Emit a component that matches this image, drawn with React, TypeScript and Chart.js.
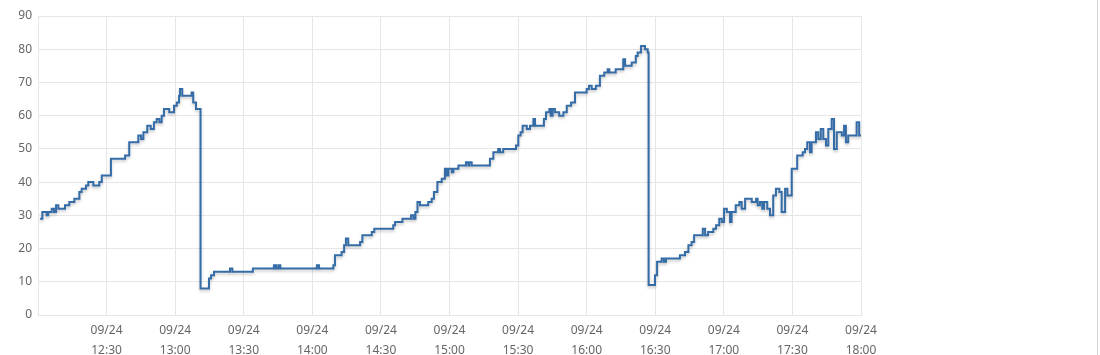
import React, { useEffect, useRef } from 'react';
import { Chart, registerables } from 'chart.js';

Chart.register(...registerables);

// Minutes after 12:00 at which the value changes (step-before)
const minutes = [
  0.9, 1.9, 3.8, 4.5, 6.0, 7.0, 7.9, 8.9, 11.8, 13.7,
  15.9, 18.1, 19.1, 21.0, 22.0, 24.2, 26.8, 27.9, 31.9, 38.1,
  39.9, 43.9, 45.1, 46.1, 47.8, 49.3, 50.7, 51.9, 53.1, 54.1,
  55.1, 57.4, 59.5, 60.7, 61.7, 62.1, 63.1, 67.2, 67.9, 69.1,
  71.1, 74.8, 75.7, 77.0, 84.0, 85.0, 94.0, 103.2, 104.1, 105.1,
  106.0, 122.0, 122.9, 129.2, 129.9, 132.8, 133.9, 134.7, 135.7, 140.9,
  141.9, 146.0, 147.1, 155.4, 156.2, 159.4, 163.2, 164.2, 165.1, 166.0,
  167.1, 170.7, 172.2, 173.2, 174.7, 176.6, 178.0, 178.8, 179.5, 181.0,
  181.7, 183.9, 187.2, 188.2, 188.7, 189.7, 197.7, 199.2, 201.3, 202.1,
  203.5, 209.1, 210.1, 211.1, 212.0, 213.8, 215.2, 216.7, 217.4, 221.3,
  222.2, 223.7, 224.3, 225.1, 226.1, 228.0, 229.8, 231.3, 233.2, 234.9,
  240.0, 241.0, 242.2, 244.0, 245.8, 247.7, 249.2, 249.9, 252.7, 256.0,
  256.8, 259.7, 261.5, 262.3, 263.8, 265.5, 266.7, 267.1, 269.9, 270.8,
  272.8, 273.8, 274.7, 280.8, 283.0, 284.5, 285.9, 287.0, 290.8, 291.8,
  293.1, 295.4, 296.6, 298.0, 299.1, 300.1, 301.3, 302.7, 303.4, 305.2,
  306.8, 307.8, 309.3, 312.2, 314.1, 314.8, 315.8, 316.8, 317.6, 319.0,
  320.2, 321.6, 322.8, 324.3, 325.3, 326.8, 327.8, 329.7, 332.1, 334.5,
  335.5, 336.5, 337.7, 338.4, 340.3, 341.3, 342.4, 343.5, 344.7, 345.7,
  347.2, 348.2, 349.4, 351.6, 352.6, 353.4, 354.4, 358.1, 359.2, 360.0,
];

const values = [
  29, 31, 30, 31, 32, 31, 33, 32, 33, 34,
  35, 37, 38, 39, 40, 39, 40, 42, 47, 48,
  52, 54, 53, 55, 57, 56, 58, 59, 58, 60,
  62, 61, 63, 64, 66, 68, 66, 67, 64, 62,
  8, 11, 12, 13, 14, 13, 14, 15, 14, 15,
  14, 15, 14, 15, 18, 19, 21, 23, 21, 22,
  24, 25, 26, 27, 28, 29, 30, 29, 31, 34,
  33, 34, 35, 37, 40, 41, 44, 42, 44, 43,
  44, 45, 46, 45, 46, 45, 47, 49, 50, 49,
  50, 51, 54, 55, 57, 56, 57, 59, 57, 59,
  61, 62, 60, 62, 61, 60, 61, 63, 64, 67,
  68, 69, 68, 69, 72, 73, 74, 73, 74, 77,
  75, 76, 78, 79, 81, 80, 79, 9, 12, 16,
  17, 16, 17, 18, 19, 21, 22, 24, 26, 24,
  25, 26, 27, 29, 28, 32, 31, 28, 31, 33,
  34, 32, 35, 34, 35, 33, 34, 32, 34, 32,
  30, 36, 38, 37, 31, 38, 36, 44, 48, 49,
  50, 52, 49, 52, 55, 53, 56, 53, 51, 56,
  59, 50, 55, 54, 57, 52, 54, 58, 54, 54,
];

const dateLabel = '09/24';
const timeLabels = [
  '12:00', '12:30', '13:00', '13:30', '14:00', '14:30', '15:00',
  '15:30', '16:00', '16:30', '17:00', '17:30', '18:00',
];

const LINE_COLOR = 'rgb(52,108,168)';
const GRID_COLOR = '#e6e6e6';
const TEXT_COLOR = '#666666';

export default function App() {
  const ref = useRef<HTMLCanvasElement>(null);

  useEffect(() => {
    if (!ref.current) return;
    const shadowPlugin = {
      id: 'lineShadow',
      beforeDatasetDraw(chart: any) {
        const c = chart.ctx;
        c.save();
        c.shadowColor = 'rgba(0,0,0,0.22)';
        c.shadowBlur = 3;
        c.shadowOffsetY = 2;
      },
      afterDatasetDraw(chart: any) {
        chart.ctx.restore();
      },
    };
    const font = { family: 'Noto Sans', size: 12, lineHeight: 1.67 };
    const chart = new Chart(ref.current, {
      type: 'line',
      data: {
        datasets: [
          {
            data: minutes.map((m, i) => ({ x: m, y: values[i] })),
            stepped: 'before',
            borderColor: LINE_COLOR,
            borderWidth: 2,
            pointRadius: 0,
            fill: false,
          },
        ],
      },
      options: {
        responsive: false,
        animation: false,
        layout: { padding: { left: 18, right: 239, top: 11, bottom: 0 } },
        plugins: { legend: { display: false }, tooltip: { enabled: false } },
        scales: {
          x: {
            type: 'linear',
            min: 0,
            max: 360,
            grid: { color: GRID_COLOR, drawTicks: false },
            border: { color: GRID_COLOR },
            ticks: {
              stepSize: 30,
              autoSkip: false,
              maxRotation: 0,
              padding: 6,
              color: TEXT_COLOR,
              font,
              callback: (v: any) => {
                const idx = Math.round(Number(v) / 30);
                if (idx === 0) return '';
                return [dateLabel, timeLabels[idx]];
              },
            },
            afterFit: (s: any) => {
              s.height = 40;
            },
          },
          y: {
            min: 0,
            max: 90,
            grid: { color: GRID_COLOR, drawTicks: false },
            border: { color: GRID_COLOR },
            ticks: { stepSize: 10, padding: 6, color: TEXT_COLOR, font },
            afterFit: (s: any) => {
              s.width = 20;
            },
          },
        },
      },
      plugins: [shadowPlugin],
    } as any);
    return () => chart.destroy();
  }, []);

  return (
    <div
      style={{
        position: 'absolute',
        left: 0,
        top: 0,
        width: 1100,
        height: 355,
        overflow: 'hidden',
        background: '#fff',
      }}
    >
      <canvas ref={ref} width={1100} height={355} style={{ display: 'block' }} />
      <div
        style={{
          position: 'absolute',
          left: 1097,
          top: 0,
          width: 1,
          height: 355,
          background: '#d4d4d4',
        }}
      />
    </div>
  );
}
